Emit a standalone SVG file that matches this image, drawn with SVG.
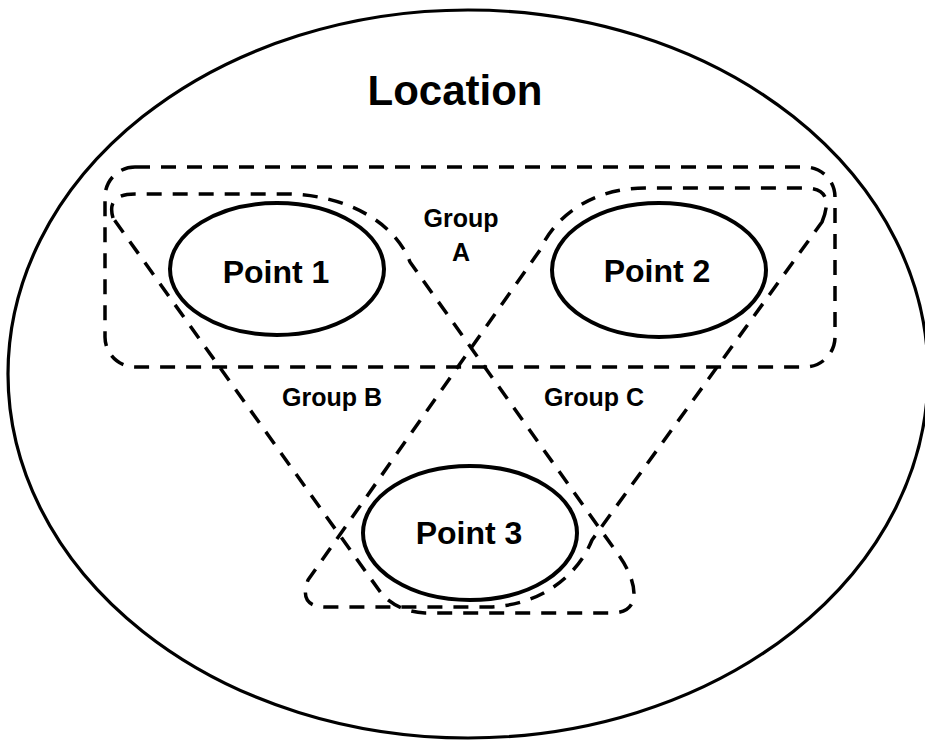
<svg xmlns="http://www.w3.org/2000/svg" width="925" height="740" viewBox="0 0 925 740">
  <style>
    .loc { fill: none; stroke: #000; stroke-width: 3.2; }
    .pt { fill: none; stroke: #000; stroke-width: 4; }
    .grp { fill: none; stroke: #000; stroke-width: 3.5; stroke-dasharray: 15 11; stroke-linejoin: round; }
    text { font-family: "Liberation Sans", Arial, sans-serif; font-weight: bold; fill: #000; text-anchor: middle; }
    .title { font-size: 42px; }
    .ptl { font-size: 32px; }
    .gl { font-size: 25px; }
  </style>
  <rect width="925" height="740" fill="#fff"/>

  <!-- outer location boundary -->
  <g id="location">
    <ellipse class="loc" cx="468" cy="374" rx="460" ry="364"/>
    <text class="title" x="455" y="105">Location</text>
  </g>

  <!-- dashed group outlines -->
  <g id="groups">
    <g id="group-a">
      <rect class="grp" x="105" y="167" width="730" height="200" rx="30" ry="30"/>
      <text class="gl" x="461" y="227">Group</text>
      <text class="gl" x="461" y="261">A</text>
    </g>
    <g id="group-b">
      <path class="grp" d="M 113,218 Q 106,194 135,194 L 285,194 C 345,194 395,222 410,262 L 620,557 C 636,580 644,613 612,613 L 425,613 Q 396,611 381,593 Z"/>
      <text class="gl" x="332" y="406">Group B</text>
    </g>
    <g id="group-c">
      <path class="grp" d="M 822,222 Q 836,188 805,188 L 645,188 C 595,188 556,214 540,250 L 308,580 Q 298,607 326,607 L 490,607 C 540,605 577,577 592,540 Z"/>
      <text class="gl" x="594" y="406">Group C</text>
    </g>
  </g>

  <!-- point nodes -->
  <g id="point-1">
    <ellipse class="pt" cx="277" cy="269" rx="107" ry="66"/>
    <text class="ptl" x="276" y="283">Point 1</text>
  </g>
  <g id="point-2">
    <ellipse class="pt" cx="659" cy="270" rx="107" ry="67"/>
    <text class="ptl" x="657" y="282">Point 2</text>
  </g>
  <g id="point-3">
    <ellipse class="pt" cx="470" cy="533" rx="107" ry="67"/>
    <text class="ptl" x="469" y="544">Point 3</text>
  </g>
</svg>
